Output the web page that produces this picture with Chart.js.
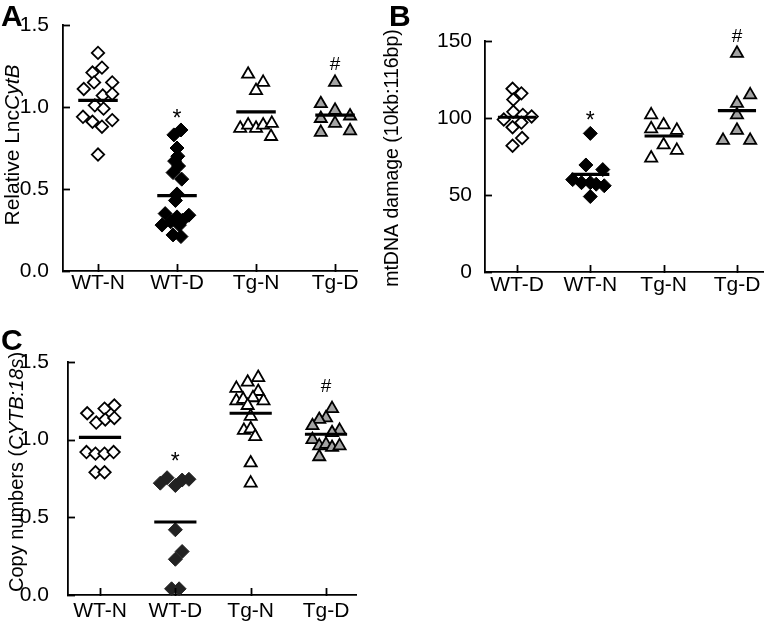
<!DOCTYPE html>
<html>
<head>
<meta charset="utf-8">
<script src="https://cdn.jsdelivr.net/npm/chart.js@4.4.1/dist/chart.umd.min.js"></script>
<style>
  body { margin: 0; background: #fff; width: 769px; height: 623px; position: relative; overflow: hidden; }
  canvas { position: absolute; }
  #cA { left: 0; top: 0; width: 380px; height: 300px; }
  #cB { left: 380px; top: 0; width: 389px; height: 300px; }
  #cC { left: 0; top: 300px; width: 380px; height: 323px; }
</style>
</head>
<body>
<canvas id="cA" width="380" height="300"></canvas>
<canvas id="cB" width="389" height="300"></canvas>
<canvas id="cC" width="380" height="323"></canvas>
<script>
// ---- data ----
// x jitter arrays are offsets from the group position (in category units)

// panel A : Relative LncCytB
var catsA = ['WT-N', 'WT-D', 'Tg-N', 'Tg-D'];
var aWtN = [1.33, 1.24, 1.21, 1.15, 1.11, 1.15, 1.07, 1.08, 1.01, 0.99, 0.94, 0.91, 0.88, 0.92, 0.71];
var aWtNx = [0, 0.05, -0.07, -0.05, -0.18, 0.18, 0.06, 0.18, -0.04, 0.07, -0.19, -0.07, 0.05, 0.18, 0];
var aWtD = [0.86, 0.83, 0.75, 0.70, 0.67, 0.64, 0.60, 0.56, 0.47, 0.43, 0.35, 0.33, 0.34, 0.30, 0.31, 0.28, 0.28, 0.22, 0.21];
var aWtDx = [0.05, -0.04, 0, 0.01, -0.03, 0.02, -0.05, 0.06, 0, -0.02, -0.15, 0, 0.15, -0.08, 0.07, -0.19, 0.03, -0.05, 0.05];
var aTgN = [1.20, 1.15, 1.10, 0.87, 0.89, 0.87, 0.89, 0.90, 0.82];
var aTgNx = [-0.1, 0.09, 0, -0.2, -0.1, 0, 0.09, 0.2, 0.19];
var aTgD = [1.15, 1.02, 0.93, 0.98, 0.945, 0.90, 0.845, 0.855];
var aTgDx = [0, -0.18, -0.18, 0, 0.19, 0, -0.18, 0.19];
var aMeans = [1.04, 0.46, 0.97, 0.95];
var aMarks = ['', '*', '', '#'];
var aMarkY = [null, 0.94, null, 1.26];
var aTicks = [0, 0.5, 1.0, 1.5];

// panel B : mtDNA damage
var catsB = ['WT-D', 'WT-N', 'Tg-N', 'Tg-D'];
var bWtD = [119, 116, 112, 104, 102, 101, 99, 97, 94, 87, 82];
var bWtDx = [-0.06, 0.06, -0.05, -0.05, 0.08, 0.2, -0.18, 0.06, -0.06, 0.07, -0.06];
var bWtN = [90, 69.5, 66.5, 60, 58, 58, 57, 56, 49];
var bWtNx = [0, -0.06, 0.17, -0.24, -0.12, 0, 0.08, 0.19, 0];
var bTgN = [102, 93, 95.5, 92, 82.5, 79, 74];
var bTgNx = [-0.17, -0.17, 0, 0.18, 0, 0.18, -0.17];
var bTgD = [142, 115, 109.5, 102, 92, 85.5, 85.5];
var bTgDx = [0, 0.18, 0, 0, 0, -0.19, 0.18];
var bMeans = [100.5, 63.4, 88.3, 104.8];
var bMarks = ['', '*', '', '#'];
var bMarkY = [null, 99.8, null, 152.8];
var bTicks = [0, 50, 100, 150];

// panel C : copy numbers
var catsC = ['WT-N', 'WT-D', 'Tg-N', 'Tg-D'];
var cWtN = [1.17, 1.20, 1.22, 1.11, 1.13, 1.14, 0.92, 0.91, 0.91, 0.92, 0.79, 0.79];
var cWtNx = [-0.17, 0.06, 0.19, -0.05, 0.07, 0.19, -0.18, -0.06, 0.06, 0.18, -0.06, 0.06];
var cWtD = [0.72, 0.755, 0.705, 0.74, 0.745, 0.42, 0.28, 0.23, 0.04, 0.04];
var cWtDx = [-0.2, -0.11, 0, 0.09, 0.18, 0, 0.09, 0, -0.05, 0.05];
var cTgN = [1.40, 1.37, 1.33, 1.31, 1.25, 1.26, 1.27, 1.25, 1.22, 1.15, 1.06, 1.07, 1.02, 0.85, 0.72];
var cTgNx = [0.1, -0.04, -0.19, 0.1, -0.19, -0.1, 0.03, 0.17, -0.04, 0, -0.09, 0, 0.06, 0, 0];
var cTgD = [1.20, 1.14, 1.13, 1.09, 1.06, 1.045, 1.00, 0.96, 0.97, 0.95, 0.96, 0.89];
var cTgDx = [0.08, 0, -0.09, -0.18, 0.18, 0.08, -0.18, -0.09, 0, 0.08, 0.18, -0.09];
var cMeans = [1.015, 0.47, 1.17, 1.035];
var cMarks = ['', '*', '', '#'];
var cMarkY = [null, 0.87, null, 1.34];
var cTicks = [0, 0.5, 1.0, 1.5];

var FONT = '"Liberation Sans", Arial, Helvetica, sans-serif';

// marker looks
var openDia = { pointStyle: 'rectRot', pointRadius: 6.2, backgroundColor: '#fff', borderColor: '#000', borderWidth: 1.8 };
var fillDia = { pointStyle: 'rectRot', pointRadius: 7, backgroundColor: '#000', borderColor: '#000', borderWidth: 1 };
var darkDia = { pointStyle: 'rectRot', pointRadius: 7, backgroundColor: '#222', borderColor: '#222', borderWidth: 1 };
var openTri = { pointStyle: 'triangle', pointRadius: 7, backgroundColor: '#fff', borderColor: '#000', borderWidth: 1.8 };
var grayTri = { pointStyle: 'triangle', pointRadius: 7, backgroundColor: '#a3a3a3', borderColor: '#000', borderWidth: 1.8 };

function group(cat, vals, jit, look) {
  var ds = Object.assign({ data: vals.map(function (v, i) { return { x: cat + jit[i], y: v }; }), clip: false, order: 1 }, look);
  ds.pointHoverRadius = ds.pointRadius;
  return ds;
}

function meanLine(means, half) {
  var d = [];
  means.forEach(function (m, i) {
    d.push({ x: i + 1 - half, y: m }, { x: i + 1 + half, y: m }, { x: i + 1.5, y: null });
  });
  return { data: d, showLine: true, spanGaps: false, borderColor: '#000', borderWidth: 3.2, pointRadius: 0, pointHoverRadius: 0, clip: false, order: 0 };
}

// inward ticks, panel letter, rotated y title, significance marks
function deco(p) {
  return {
    id: 'deco',
    afterDraw: function (chart) {
      var ctx = chart.ctx, xs = chart.scales.x, ys = chart.scales.y, a = chart.chartArea;
      ctx.save();
      ctx.strokeStyle = '#000';
      ctx.lineWidth = 1.8;
      ys.ticks.forEach(function (t) {
        var y = Math.round(ys.getPixelForValue(t.value)) + 0.5;
        ctx.beginPath(); ctx.moveTo(a.left - 1, y); ctx.lineTo(a.left + 7, y); ctx.stroke();
      });
      xs.ticks.forEach(function (t) {
        var x = Math.round(xs.getPixelForValue(t.value)) + 0.5;
        ctx.beginPath(); ctx.moveTo(x, a.bottom + 1); ctx.lineTo(x, a.bottom - 7); ctx.stroke();
      });

      ctx.fillStyle = '#000';
      ctx.textAlign = 'left';
      ctx.textBaseline = 'alphabetic';
      ctx.font = 'bold 30px ' + FONT;
      ctx.fillText(p.letter, p.lx, p.ly);

      // y title made of plain / italic pieces
      ctx.save();
      ctx.translate(p.tx, p.ty);
      ctx.rotate(-Math.PI / 2);
      var total = 0;
      p.title.forEach(function (s) {
        ctx.font = (s[1] ? 'italic ' : '') + p.tsize + 'px ' + FONT;
        total += ctx.measureText(s[0]).width;
      });
      var cx = -total / 2;
      p.title.forEach(function (s) {
        ctx.font = (s[1] ? 'italic ' : '') + p.tsize + 'px ' + FONT;
        ctx.fillText(s[0], cx, 0);
        cx += ctx.measureText(s[0]).width;
      });
      ctx.restore();

      ctx.textAlign = 'center';
      ctx.textBaseline = 'middle';
      p.marks.forEach(function (m, i) {
        if (!m) return;
        ctx.font = (m === '*' ? '23px ' : '19px ') + FONT;
        ctx.fillText(m, xs.getPixelForValue(i + 1), ys.getPixelForValue(p.markY[i]) + (m === '*' ? 3 : 0));
      });
      ctx.restore();
    }
  };
}

function panel(id, o) {
  var cv = document.getElementById(id);
  var W = cv.width, H = cv.height;
  return new Chart(cv, {
    type: 'scatter',
    data: { datasets: o.datasets },
    options: {
      responsive: false,
      animation: false,
      events: [],
      layout: { autoPadding: false, padding: { left: 0, top: o.area[1], right: W - o.area[2], bottom: 0 } },
      plugins: { legend: { display: false }, tooltip: { enabled: false } },
      scales: {
        x: {
          type: 'linear',
          min: o.xmin, max: o.xmax,
          afterFit: function (s) { s.height = H - o.area[3]; },
          afterBuildTicks: function (s) { s.ticks = [1, 2, 3, 4].map(function (v) { return { value: v }; }); },
          grid: { display: false },
          border: { display: true, color: '#000', width: 1.8 },
          ticks: {
            autoSkip: false, maxRotation: 0, padding: o.xpad, color: '#000',
            font: { family: FONT, size: 21 },
            callback: function (v) { return o.cats[v - 1]; }
          }
        },
        y: {
          min: o.yTicks[0], max: o.yTicks[o.yTicks.length - 1],
          afterFit: function (s) { s.width = o.area[0]; },
          afterBuildTicks: function (s) { s.ticks = o.yTicks.map(function (v) { return { value: v }; }); },
          grid: { display: false },
          border: { display: true, color: '#000', width: 1.8 },
          ticks: {
            padding: o.ypad, color: '#000',
            font: { family: FONT, size: 21 },
            callback: function (v) { return o.dec ? v.toFixed(1) : String(v); }
          }
        }
      }
    },
    plugins: [deco(o.deco)]
  });
}

panel('cA', {
  cats: catsA, yTicks: aTicks, dec: true,
  area: [63, 25, 357, 271], xmin: 0.557, xmax: 4.278, xpad: -8, ypad: 6,
  datasets: [
    meanLine(aMeans, 0.25),
    group(1, aWtN, aWtNx, openDia),
    group(2, aWtD, aWtDx, fillDia),
    group(3, aTgN, aTgNx, openTri),
    group(4, aTgD, aTgDx, grayTri)
  ],
  deco: { letter: 'A', lx: 1, ly: 26, tx: 19, ty: 145, tsize: 21, title: [['Relative Lnc', false], ['CytB', true]], marks: aMarks, markY: aMarkY }
});

panel('cB', {
  cats: catsB, yTicks: bTicks, dec: false,
  area: [105, 41, 383, 272], xmin: 0.564, xmax: 4.355, xpad: -7, ypad: 5,
  datasets: [
    meanLine(bMeans, 0.26),
    group(1, bWtD, bWtDx, openDia),
    group(2, bWtN, bWtNx, fillDia),
    group(3, bTgN, bTgNx, openTri),
    group(4, bTgD, bTgDx, grayTri)
  ],
  deco: { letter: 'B', lx: 9, ly: 26, tx: 18, ty: 158, tsize: 19.5, title: [['mtDNA damage (10kb:116bp)', false]], marks: bMarks, markY: bMarkY }
});

panel('cC', {
  cats: catsC, yTicks: cTicks, dec: true,
  area: [68, 62, 356, 295], xmin: 0.575, xmax: 4.398, xpad: -4, ypad: 11,
  datasets: [
    meanLine(cMeans, 0.28),
    group(1, cWtN, cWtNx, openDia),
    group(2, cWtD, cWtDx, darkDia),
    group(3, cTgN, cTgNx, openTri),
    group(4, cTgD, cTgDx, grayTri)
  ],
  deco: { letter: 'C', lx: 1, ly: 50, tx: 23, ty: 172, tsize: 20, title: [['Copy numbers (', false], ['CYTB:18s', true], [')', false]], marks: cMarks, markY: cMarkY }
});
</script>
</body>
</html>
